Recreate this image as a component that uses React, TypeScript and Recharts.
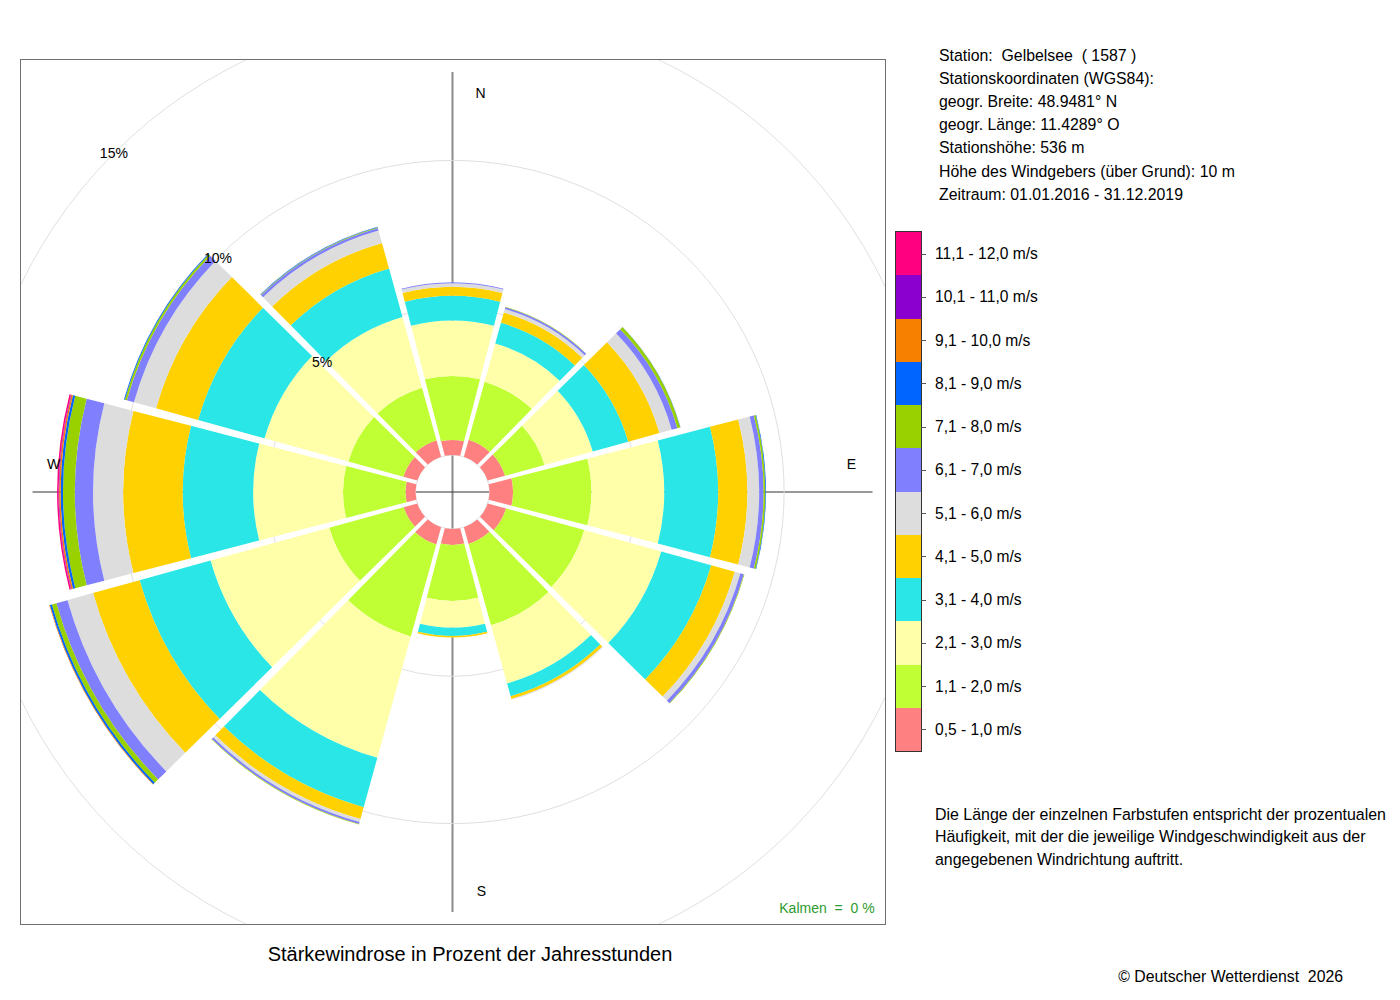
import React from 'react';
import {
  RadialBarChart,
  RadialBar,
  PolarAngleAxis,
  PolarRadiusAxis,
  PolarGrid,
} from 'recharts';

// wind directions, clockwise from north
const directions = ['N', 'NNE', 'ENE', 'E', 'ESE', 'SSE', 'S', 'SSW', 'WSW', 'W', 'WNW', 'NNW'];

// share of the annual hours (%) per speed class, same order as directions
const speed05to10 = [0.51, 0.6, 0.61, 0.8, 0.65, 0.59, 0.54, 0.61, 0.48, 0.34, 0.49, 0.58];
const speed11to20 = [2.17, 2.04, 1.39, 2.66, 2.75, 2.86, 1.9, 3.24, 2.62, 2.12, 1.94, 1.85];
const speed21to30 = [1.88, 1.35, 1.7, 2.47, 2.71, 2.05, 0.91, 4.27, 4.18, 3.05, 2.95, 2.49];
const speed31to40 = [0.84, 0.73, 1.25, 1.83, 1.76, 0.45, 0.28, 1.74, 2.5, 2.39, 2.34, 1.71];
const speed41to50 = [0.31, 0.36, 1.1, 0.99, 0.83, 0.1, 0.05, 0.42, 1.64, 2.02, 1.48, 0.9];
const speed51to60 = [0.12, 0.12, 0.43, 0.4, 0.2, 0.03, 0, 0.1, 0.9, 1.02, 0.78, 0.44];
const speed61to70 = [0.03, 0.07, 0.2, 0.15, 0.12, 0, 0, 0.07, 0.39, 0.62, 0.25, 0.09];
const speed71to80 = [0, 0.01, 0.1, 0.06, 0.02, 0, 0, 0.02, 0.16, 0.4, 0.07, 0.02];
const speed81to90 = [0, 0, 0.01, 0.02, 0, 0, 0, 0, 0.07, 0.08, 0.03, 0.02];
const speed91to100 = [0, 0, 0, 0, 0, 0, 0, 0, 0.02, 0.05, 0, 0];
const speed101to110 = [0, 0, 0, 0, 0, 0, 0, 0, 0, 0.02, 0, 0];
const speed111to120 = [0, 0, 0, 0, 0, 0, 0, 0, 0, 0.05, 0, 0];

const speedSeries = [
  speed05to10, speed11to20, speed21to30, speed31to40, speed41to50, speed51to60,
  speed61to70, speed71to80, speed81to90, speed91to100, speed101to110, speed111to120,
];

const speedLabels = [
  '0,5 - 1,0 m/s', '1,1 - 2,0 m/s', '2,1 - 3,0 m/s', '3,1 - 4,0 m/s',
  '4,1 - 5,0 m/s', '5,1 - 6,0 m/s', '6,1 - 7,0 m/s', '7,1 - 8,0 m/s',
  '8,1 - 9,0 m/s', '9,1 - 10,0 m/s', '10,1 - 11,0 m/s', '11,1 - 12,0 m/s',
];

const speedColors = [
  '#ff8080', '#bfff33', '#ffffaa', '#2ae6e6', '#ffd100', '#dddddd',
  '#8080ff', '#99d100', '#0064ff', '#f88000', '#8c00cf', '#ff0080',
];

const percentTicks = [0, 5, 10, 15, 20];
const percentLabels = [5, 10, 15];
const compassLabels: Record<string, string> = { N: 'N', E: 'E', S: 'S', W: 'W' };

const stationLines = [
  'Station:  Gelbelsee  ( 1587 )',
  'Stationskoordinaten (WGS84):',
  'geogr. Breite: 48.9481° N',
  'geogr. Länge: 11.4289° O',
  'Stationshöhe: 536 m',
  'Höhe des Windgebers (über Grund): 10 m',
  'Zeitraum: 01.01.2016 - 31.12.2019',
];

const noteLines = [
  'Die Länge der einzelnen Farbstufen entspricht der prozentualen',
  'Häufigkeit, mit der die jeweilige Windgeschwindigkeit aus der',
  'angegebenen Windrichtung auftritt.',
];

const chartData = directions.map((dir, i) => {
  const row: Record<string, string | number> = { dir };
  speedSeries.forEach((s, k) => {
    row[`s${k}`] = s[i];
  });
  return row;
});

// layout
const BOX_LEFT = 20;
const BOX_TOP = 59;
const BOX_SIZE = 866;
const CX = 432.5;
const CY = 433;
const HOLE_R = 37;
const PX_PER_PCT = 29.46;
const OUTER_R = HOLE_R + 20 * PX_PER_PCT;
const COMPASS_R = 399;
const RAD = Math.PI / 180;
const HALF_BAND = 180 / directions.length;
const FONT = '"Liberation Sans", Arial, Helvetica, sans-serif';

const compassOffset: Record<string, [number, number]> = {
  N: [28, 0],
  E: [0, -28],
  S: [29, 0],
  W: [0, -28],
};

// sector with straight white gaps between neighbouring directions
function gapShrink(r: number) {
  const half = 1.6 + 0.008 * r;
  return Math.asin(Math.min(1, half / Math.max(r, 0.001))) / RAD;
}

function RoseSector(props: any) {
  const { cx, cy, innerRadius, outerRadius, startAngle, endAngle, color } = props;
  if (!(outerRadius - innerRadius > 0.01)) return <g />;
  const a1 = Math.min(startAngle, endAngle);
  const a2 = Math.max(startAngle, endAngle);
  const pt = (r: number, a: number) =>
    `${cx + r * Math.cos(-a * RAD)},${cy + r * Math.sin(-a * RAD)}`;
  const d = [
    `M${pt(innerRadius, a1 + gapShrink(innerRadius))}`,
    `L${pt(outerRadius, a1 + gapShrink(outerRadius))}`,
    `A${outerRadius},${outerRadius} 0 0 0 ${pt(outerRadius, a2 - gapShrink(outerRadius))}`,
    `L${pt(innerRadius, a2 - gapShrink(innerRadius))}`,
    `A${innerRadius},${innerRadius} 0 0 1 ${pt(innerRadius, a1 + gapShrink(innerRadius))}`,
    'Z',
  ].join(' ');
  return <path d={d} fill={color} stroke="none" />;
}

function CompassTick(props: any) {
  const { payload } = props;
  const label = compassLabels[payload.value];
  if (!label) return <g />;
  // tick sits at the start of the band, the label goes on its middle
  const a = (payload.coordinate + HALF_BAND) * RAD;
  const [dx, dy] = compassOffset[label];
  return (
    <text
      x={CX + COMPASS_R * Math.cos(-a) + dx}
      y={CY + COMPASS_R * Math.sin(-a) + dy}
      textAnchor="middle"
      dominantBaseline="central"
      fontSize={14}
      fill="#000"
    >
      {label}
    </text>
  );
}

function PercentTick(props: any) {
  const { x, y, payload } = props;
  if (!percentLabels.includes(payload.value)) return <g />;
  return (
    <text x={x} y={y} textAnchor="middle" dominantBaseline="central" fontSize={14} fill="#000">
      {`${payload.value}%`}
    </text>
  );
}

const noMargin = { top: 0, right: 0, bottom: 0, left: 0 };
const CELL_H = 519 / 12;

export default function App() {
  return (
    <div style={pageStyle}>
      <div style={plotClip}>
        {/* cross lines through the centre, under the rose */}
        <div style={{ position: 'absolute', left: 0, top: 0 }}>
          <RadialBarChart
            width={BOX_SIZE}
            height={BOX_SIZE}
            data={chartData}
            layout="centric"
            cx={CX}
            cy={CY}
            innerRadius={0}
            outerRadius={420}
            margin={noMargin}
          >
            <PolarGrid gridType="circle" polarAngles={[90, 270]} polarRadius={[]} stroke="#8c8c8c" strokeWidth={2} />
            <PolarGrid gridType="circle" polarAngles={[0, 180]} polarRadius={[]} stroke="#333333" strokeWidth={1} />
          </RadialBarChart>
        </div>
        <div style={{ position: 'absolute', left: 0, top: 0 }}>
          <RadialBarChart
            width={BOX_SIZE}
            height={BOX_SIZE}
            data={chartData}
            layout="centric"
            cx={CX}
            cy={CY}
            innerRadius={HOLE_R}
            outerRadius={OUTER_R}
            startAngle={90 - HALF_BAND}
            endAngle={90 - HALF_BAND - 360}
            barCategoryGap={0}
            barGap={0}
            margin={noMargin}
          >
            <PolarGrid gridType="circle" radialLines={false} stroke="#e0e0e0" />
            <PolarAngleAxis
              dataKey="dir"
              type="category"
              axisLine={false}
              tickLine={false}
              tick={<CompassTick />}
            />
            {speedSeries.map((_, k) => (
              <RadialBar
                key={k}
                dataKey={`s${k}`}
                stackId="ws"
                fill={speedColors[k]}
                isAnimationActive={false}
                shape={(p: any) => <RoseSector {...p} color={speedColors[k]} />}
              />
            ))}
            <PolarRadiusAxis
              type="number"
              domain={[0, 20]}
              ticks={percentTicks}
              allowDataOverflow
              angle={135}
              axisLine={false}
              tickLine={false}
              tick={<PercentTick />}
            />
          </RadialBarChart>
        </div>
        <div style={kalmenStyle}>Kalmen&nbsp; = &nbsp;0 %</div>
      </div>
      <div style={plotFrame} />

      <div style={stationStyle}>
        {stationLines.map((line) => (
          <div key={line}>{line}</div>
        ))}
      </div>

      <div style={legendBar}>
        {speedColors
          .map((c, k) => ({ c, k }))
          .reverse()
          .map(({ c, k }) => (
            <div key={k} style={{ height: CELL_H, background: c }} />
          ))}
      </div>
      {speedLabels
        .map((label, k) => ({ label, k }))
        .reverse()
        .map(({ label }, i) => (
          <React.Fragment key={label}>
            <div style={{ ...legendTick, top: 232 + CELL_H * (i + 0.5) }} />
            <div style={{ ...legendLabel, top: 232 + CELL_H * i }}>{label}</div>
          </React.Fragment>
        ))}

      <div style={noteStyle}>
        {noteLines.map((line) => (
          <div key={line}>{line}</div>
        ))}
      </div>

      <div style={titleStyle}>Stärkewindrose in Prozent der Jahresstunden</div>
      <div style={copyStyle}>© Deutscher Wetterdienst&nbsp; 2026</div>
    </div>
  );
}

const pageStyle: React.CSSProperties = {
  position: 'absolute',
  left: 0,
  top: 0,
  width: 1400,
  height: 1000,
  background: '#fff',
  fontFamily: FONT,
  color: '#000',
};

const plotClip: React.CSSProperties = {
  position: 'absolute',
  left: BOX_LEFT,
  top: BOX_TOP,
  width: BOX_SIZE,
  height: BOX_SIZE,
  overflow: 'hidden',
};

const plotFrame: React.CSSProperties = {
  position: 'absolute',
  left: BOX_LEFT,
  top: BOX_TOP,
  width: BOX_SIZE,
  height: BOX_SIZE,
  border: '1px solid #707070',
  boxSizing: 'border-box',
  pointerEvents: 'none',
};

// right edge of the text at x = 874.6 on the page
const kalmenStyle: React.CSSProperties = {
  position: 'absolute',
  right: BOX_LEFT + BOX_SIZE - 874.6,
  top: 899.2 - BOX_TOP,
  fontSize: 14,
  lineHeight: '18px',
  color: '#2e9b2e',
  whiteSpace: 'pre',
};

const stationStyle: React.CSSProperties = {
  position: 'absolute',
  left: 939,
  top: 43.6,
  fontSize: 15.85,
  lineHeight: '23.2px',
  whiteSpace: 'pre',
};

const legendBar: React.CSSProperties = {
  position: 'absolute',
  left: 896,
  top: 232,
  width: 25,
  height: 519,
  outline: '1px solid #333',
};

const legendTick: React.CSSProperties = {
  position: 'absolute',
  left: 921,
  width: 5,
  height: 1,
  background: '#555',
};

const legendLabel: React.CSSProperties = {
  position: 'absolute',
  left: 935,
  height: CELL_H,
  lineHeight: `${CELL_H}px`,
  fontSize: 15.6,
  whiteSpace: 'pre',
};

const noteStyle: React.CSSProperties = {
  position: 'absolute',
  left: 935,
  top: 803.6,
  fontSize: 15.95,
  lineHeight: '22.5px',
  whiteSpace: 'pre',
};

const titleStyle: React.CSSProperties = {
  position: 'absolute',
  left: 0,
  width: 940,
  top: 942.2,
  textAlign: 'center',
  fontSize: 20,
  lineHeight: '24px',
};

const copyStyle: React.CSSProperties = {
  position: 'absolute',
  right: 57,
  top: 966.9,
  fontSize: 15.8,
  lineHeight: '20px',
  whiteSpace: 'pre',
};
